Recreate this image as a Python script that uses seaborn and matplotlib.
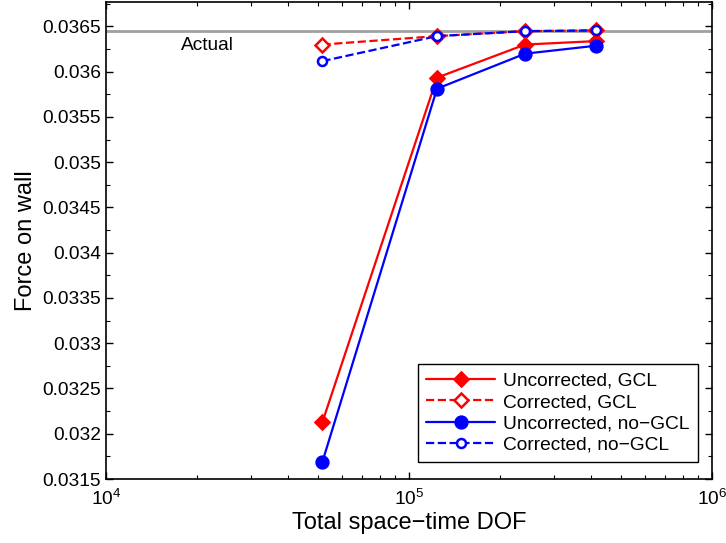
import matplotlib
matplotlib.use("Agg")
import matplotlib.pyplot as plt
import matplotlib.ticker as mticker
import seaborn as sns
import pandas as pd
import numpy as np

# Data
dof = [51800, 123700, 241600, 414000]
uncorrected_gcl = [0.03213, 0.035934, 0.03630, 0.036338]
corrected_gcl = [0.03630, 0.036393, 0.036448, 0.036456]
uncorrected_nogcl = [0.031691, 0.035812, 0.036199, 0.036287]
corrected_nogcl = [0.036117, 0.036393, 0.036448, 0.036456]
actual_value = 0.036445

series_names = ["Uncorrected, GCL", "Corrected, GCL", "Uncorrected, no\u2212GCL", "Corrected, no\u2212GCL"]
series_vals = [uncorrected_gcl, corrected_gcl, uncorrected_nogcl, corrected_nogcl]

sns.set_style("ticks")
plt.rcParams['font.family'] = ['Liberation Sans', 'DejaVu Sans']
plt.rcParams['axes.linewidth'] = 1.2
plt.rcParams['text.color'] = 'black'
plt.rcParams['axes.labelcolor'] = 'black'
plt.rcParams['xtick.color'] = 'black'
plt.rcParams['ytick.color'] = 'black'

fig = plt.figure(figsize=(7.26, 5.43), dpi=100)
ax = fig.add_axes([106/726, 1 - 479/543, (712-106)/726, (479-2)/543])

ax.axhline(actual_value, color='#a0a0a0', lw=2, zorder=1)

styles = [
    dict(color='#ff0000', marker='D', ls='-', mfc='#ff0000', ms=7.5),
    dict(color='#ff0000', marker='D', ls='--', mfc='white', ms=7),
    dict(color='#0000ff', marker='o', ls='-', mfc='#0000ff', ms=8.5),
    dict(color='#0000ff', marker='o', ls='--', mfc='white', ms=6.5),
]

for name, vals, st in zip(series_names, series_vals, styles):
    df = pd.DataFrame({"dof": dof, "force": vals})
    sns.lineplot(data=df, x="dof", y="force", ax=ax, estimator=None, sort=False,
                 color=st['color'], linestyle=st['ls'], lw=1.6,
                 marker=st['marker'], markersize=st['ms'],
                 markerfacecolor=st['mfc'], markeredgecolor=st['color'],
                 markeredgewidth=1.8, label=name, zorder=3)

ax.set_xscale('log')
ax.set_xlim(1e4, 1e6)
ax.set_ylim(0.0315, 0.03677)
ax.set_yticks(np.arange(0.0315, 0.03651, 0.0005))
ax.yaxis.set_minor_locator(mticker.MultipleLocator(0.00025))
ax.yaxis.set_major_formatter(mticker.FuncFormatter(lambda v, p: ('%.4f' % v).rstrip('0')))
ax.xaxis.set_major_locator(mticker.LogLocator(base=10))
ax.xaxis.set_minor_locator(mticker.LogLocator(base=10, subs=np.arange(2, 10)))
ax.xaxis.set_minor_formatter(mticker.NullFormatter())

ax.tick_params(which='both', direction='in', top=True, right=True, labelsize=13.8)
ax.tick_params(which='major', length=5, width=1)
ax.tick_params(which='minor', length=3, width=0.8)
ax.tick_params(axis='x', which='major', pad=7)
for s in ax.spines.values():
    s.set_visible(True)
    s.set_color('black')

ax.set_xlabel("Total space\u2212time DOF", fontsize=17, labelpad=2)
ax.set_ylabel("Force on wall", fontsize=17, labelpad=4)

ax.text(17700, 0.03629, "Actual", fontsize=13.8, va='center', ha='left')

leg = ax.legend(loc='lower right', bbox_to_anchor=(0.977, 0.035), fontsize=13.8,
                handlelength=3.6, numpoints=1, frameon=True, fancybox=False,
                edgecolor='black', framealpha=1, borderpad=0.45, labelspacing=0.2,
                handletextpad=0.4, borderaxespad=0)
leg.get_frame().set_linewidth(1.0)

fig.savefig("out.png", dpi=100)
